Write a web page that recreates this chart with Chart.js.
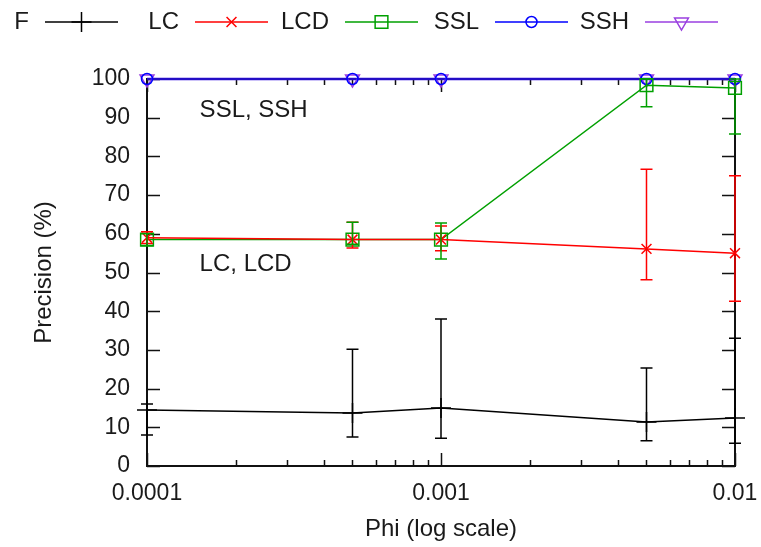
<!DOCTYPE html>
<html>
<head>
<meta charset="utf-8">
<script src="https://cdn.jsdelivr.net/npm/chart.js@4.4.1/dist/chart.umd.min.js"></script>
<style>
html,body{margin:0;padding:0;background:#fff;}
#wrap{width:761px;height:547px;}
</style>
</head>
<body>
<div id="wrap"><canvas id="c" width="761" height="547"></canvas></div>
<script>
// ---- data ----
const xValues = [0.0001, 0.0005, 0.001, 0.005, 0.01];
const seriesNames = ['F', 'LC', 'LCD', 'SSL', 'SSH'];
const fValues   = [14.5, 13.7, 15.0, 11.4, 12.4];
const fLow      = [8.0, 7.5, 7.2, 6.5, 5.9];
const fHigh     = [16.0, 30.2, 38.0, 25.3, 33.0];
const lcValues  = [59.0, 58.5, 58.5, 56.1, 55.0];
const lcLow     = [57.5, 56.3, 55.6, 48.1, 42.6];
const lcHigh    = [60.5, 63.0, 62.0, 76.7, 75.0];
const lcdValues = [58.5, 58.5, 58.5, 98.4, 97.7];
const lcdLow    = [57.0, 57.3, 53.5, 92.8, 85.8];
const lcdHigh   = [60.0, 63.0, 62.8, 100.0, 100.0];
const sslValues = [100, 100, 100, 100, 100];
const sshValues = [100, 100, 100, 100, 100];
const xTickValues = [0.0001, 0.001, 0.01];
const xTickLabels = ['0.0001', '0.001', '0.01'];
const yTitle = 'Precision (%)';
const xTitle = 'Phi (log scale)';
const noteTexts = ['SSL, SSH', 'LC, LCD'];
const noteX = [0.000151, 0.000151];
const noteY = [92, 52];

const FONT = 'Liberation Sans, Arial, sans-serif';
const TEXT = '#1a1a1a';
const colors = ['#000000', '#ff0000', '#00a000', '#0000ff', '#9a3fe0'];
const lineColors = ['#000000', '#ff0000', '#00a000', 'rgba(0,0,255,0.55)', 'rgba(120,40,200,0.6)'];
const styles = ['cross', 'crossRot', 'rect', 'circle', 'triangle'];
const radii = [10, 7, 9, 5.5, 8];
const rots = [0, 0, 0, 0, 180];
const valueSets = [fValues, lcValues, lcdValues, sslValues, sshValues];
const lowSets = [fLow, lcLow, lcdLow, null, null];
const highSets = [fHigh, lcHigh, lcdHigh, null, null];

const datasets = seriesNames.map((name, i) => ({
  label: name,
  data: xValues.map((x, j) => ({x: x, y: valueSets[i][j]})),
  borderColor: lineColors[i],
  backgroundColor: 'rgba(0,0,0,0)',
  pointBorderColor: colors[i],
  pointBackgroundColor: 'rgba(0,0,0,0)',
  pointStyle: styles[i],
  pointRadius: radii[i],
  pointRotation: rots[i],
  pointBorderWidth: 1.5,
  borderWidth: i >= 3 ? 2.5 : 1.5,
  tension: 0,
  clip: false,
  errColor: colors[i],
  errLow: lowSets[i],
  errHigh: highSets[i]
}));

const framePlugin = {
  id: 'frame',
  beforeDatasetsDraw(chart) {
    const ctx = chart.ctx, a = chart.chartArea;
    const xs = chart.scales.x, ys = chart.scales.y;
    ctx.save();
    ctx.strokeStyle = '#111';
    ctx.lineWidth = 2;
    ctx.strokeRect(a.left, a.top, a.right - a.left, a.bottom - a.top);
    ctx.lineWidth = 1.5;
    ys.ticks.forEach(t => {
      const py = Math.round(ys.getPixelForValue(t.value)) + 0.5;
      ctx.beginPath();
      ctx.moveTo(a.left, py); ctx.lineTo(a.left + 13, py);
      ctx.moveTo(a.right, py); ctx.lineTo(a.right - 13, py);
      ctx.stroke();
    });
    for (let d = -4; d <= -2; d++) {
      for (let m = 1; m <= 9; m++) {
        const v = m * Math.pow(10, d);
        if (v > 0.01 * 1.0001) continue;
        const px = Math.round(xs.getPixelForValue(v)) + 0.5;
        const len = m === 1 ? 13 : 6;
        ctx.beginPath();
        ctx.moveTo(px, a.bottom); ctx.lineTo(px, a.bottom - len);
        ctx.moveTo(px, a.top); ctx.lineTo(px, a.top + len);
        ctx.stroke();
      }
    }
    ctx.fillStyle = TEXT;
    ctx.font = '24px ' + FONT;
    ctx.textBaseline = 'middle';
    ctx.textAlign = 'left';
    noteTexts.forEach((t, i) => {
      ctx.fillText(t, xs.getPixelForValue(noteX[i]), ys.getPixelForValue(noteY[i]));
    });
    ctx.restore();
  },
  afterDatasetsDraw(chart) {
    const ctx = chart.ctx;
    const xs = chart.scales.x, ys = chart.scales.y;
    ctx.save();
    chart.data.datasets.forEach(ds => {
      if (!ds.errLow) return;
      ctx.strokeStyle = ds.errColor;
      ctx.lineWidth = 1.5;
      ds.data.forEach((p, j) => {
        const px = xs.getPixelForValue(p.x);
        const y1 = ys.getPixelForValue(ds.errLow[j]);
        const y2 = ys.getPixelForValue(ds.errHigh[j]);
        ctx.beginPath();
        ctx.moveTo(px, y1); ctx.lineTo(px, y2);
        ctx.moveTo(px - 6, y1); ctx.lineTo(px + 6, y1);
        ctx.moveTo(px - 6, y2); ctx.lineTo(px + 6, y2);
        ctx.stroke();
      });
    });
    ctx.font = '24px ' + FONT;
    ctx.textBaseline = 'middle';
    ctx.textAlign = 'right';
    const ly = 22;
    seriesNames.forEach((name, i) => {
      const sx = 45 + 150 * i;
      ctx.fillStyle = TEXT;
      ctx.fillText(name, sx - 16, ly);
      ctx.strokeStyle = colors[i];
      ctx.fillStyle = 'rgba(0,0,0,0)';
      ctx.lineWidth = 1.5;
      ctx.beginPath();
      ctx.moveTo(sx, ly); ctx.lineTo(sx + 73, ly);
      ctx.stroke();
      Chart.helpers.drawPoint(ctx, {
        pointStyle: styles[i], radius: radii[i], rotation: rots[i], borderWidth: 1.5
      }, sx + 36.5, ly);
    });
    ctx.restore();
  }
};

new Chart(document.getElementById('c'), {
  type: 'line',
  data: { datasets: datasets },
  options: {
    responsive: false,
    animation: false,
    devicePixelRatio: 1,
    layout: { padding: { top: 79, right: 26, left: 0, bottom: 0 } },
    plugins: { legend: { display: false }, tooltip: { enabled: false } },
    scales: {
      x: {
        type: 'logarithmic',
        min: 0.0001, max: 0.01,
        grid: { display: false, drawTicks: false },
        border: { display: false },
        afterBuildTicks: s => { s.ticks = xTickValues.map(v => ({ value: v })); },
        afterFit: s => { s.height = 81; s.paddingLeft = 0; s.paddingRight = 0; },
        ticks: {
          autoSkip: false, maxRotation: 0, padding: 14,
          color: TEXT, font: { family: FONT, size: 23 },
          callback: (v, i) => xTickLabels[i]
        },
        title: { display: true, text: xTitle, color: TEXT, font: { family: FONT, size: 24 }, padding: { top: 0, bottom: 3 } }
      },
      y: {
        min: 0, max: 100,
        grid: { display: false, drawTicks: false },
        border: { display: false },
        afterFit: s => { s.width = 147; s.paddingTop = 0; s.paddingBottom = 0; },
        ticks: { stepSize: 10, padding: 17, color: TEXT, font: { family: FONT, size: 23 } },
        title: { display: true, text: yTitle, color: TEXT, font: { family: FONT, size: 24 }, padding: { top: 30, bottom: 0 } }
      }
    }
  },
  plugins: [framePlugin]
});
</script>
</body>
</html>
